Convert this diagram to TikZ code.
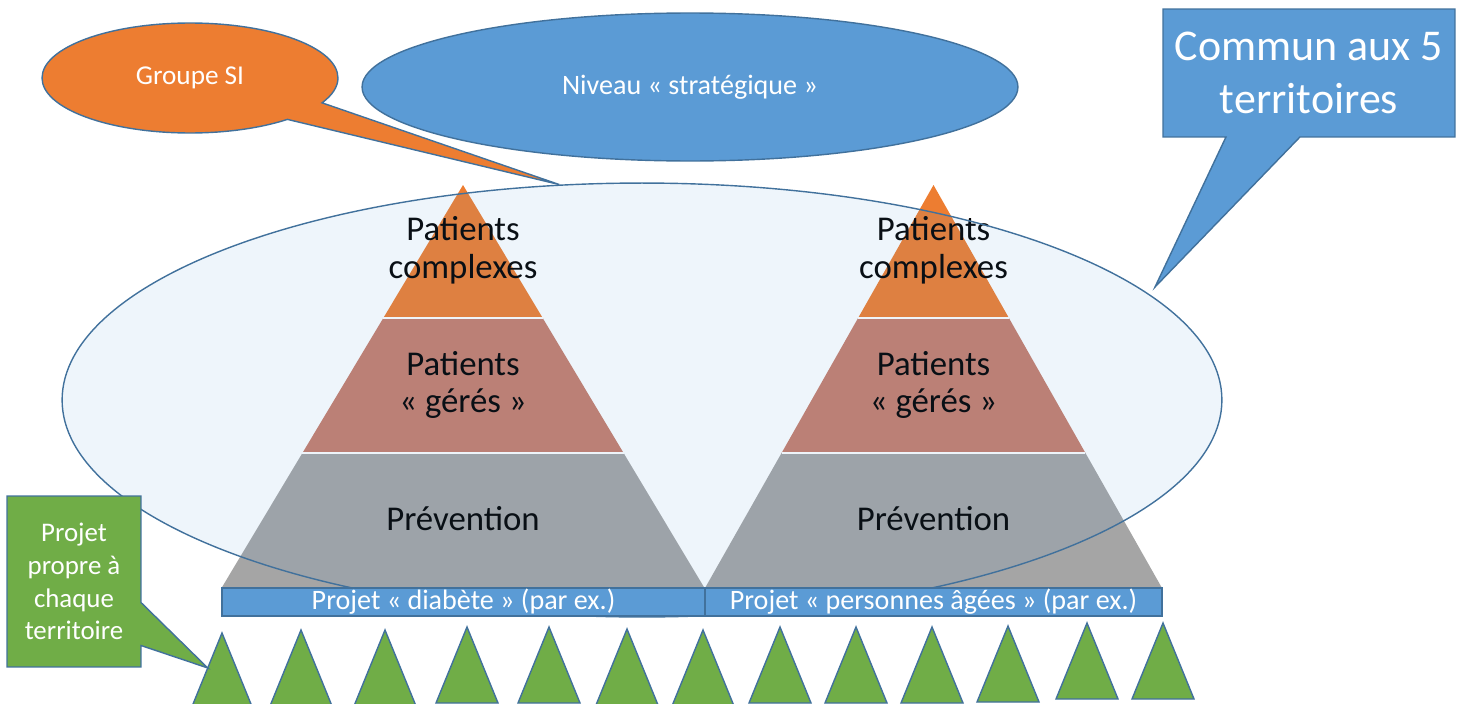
\documentclass[tikz,border=0pt]{standalone}
\usepackage{fontspec}
\setmainfont{Carlito}
\usetikzlibrary{shapes.geometric,shapes.callouts}
\definecolor{bleu}{HTML}{5B9BD5}
\definecolor{bord}{HTML}{41719C}
\definecolor{orangeSI}{HTML}{ED7D31}
\definecolor{brunP}{HTML}{C77E6C}
\definecolor{grisP}{HTML}{A5A5A5}
\definecolor{vertT}{HTML}{70AD47}

\begin{document}
\begin{tikzpicture}[x=0.02cm,y=-0.02cm,
 bulle/.style={draw=bord,line width=0.8pt,text=white,align=center,inner sep=0pt},
 etage/.style={font=\fontsize{19.8}{21.5}\selectfont,text=black,align=center},
 projet/.style={draw=bord,line width=0.8pt,fill=bleu,text=white,inner sep=0pt,minimum height=0.56cm,font=\fontsize{16}{19}\selectfont}]
\clip (0,0) rectangle (1463,703);

% deux pyramides a trois etages
\foreach \k/\cx/\hw in {1/463/241.5,2/933.5/228.5}{
 \fill[grisP] ({\cx-0.665*\hw},453) -- ({\cx+0.665*\hw},453) -- ({\cx+\hw},588) -- ({\cx-\hw},588) -- cycle;
 \fill[brunP] ({\cx-0.33*\hw},318) -- ({\cx+0.33*\hw},318) -- ({\cx+0.665*\hw},453) -- ({\cx-0.665*\hw},453) -- cycle;
 \fill[orangeSI] (\cx,185) -- ({\cx+0.33*\hw},318) -- ({\cx-0.33*\hw},318) -- cycle;
 \draw[white,line width=1pt] ({\cx-0.33*\hw},318) -- ({\cx+0.33*\hw},318) ({\cx-0.665*\hw},453) -- ({\cx+0.665*\hw},453);
 \node[etage] (haut\k) at (\cx,250) {Patients\\complexes};
 \node[etage] (milieu\k) at (\cx,385) {Patients\\« gérés »};
 \node[etage] (base\k) at (\cx,519) {Prévention};
}

% niveau commun (voile transparent)
\node[ellipse,draw=bord,line width=0.8pt,fill=bleu,fill opacity=0.1,minimum width=23.2cm,minimum height=8.68cm,inner sep=0pt] (commun) at (642,400) {};
\coordinate (pointe) at (1155,287);

\node[projet,minimum width=9.66cm] (diabete) at (463.5,602) {Projet « diabète » (par ex.)};
\node[projet,minimum width=9.14cm] (agees) at (933.5,602) {Projet « personnes âgées » (par ex.)};

% un projet par territoire
\foreach \i/\x/\y in {1/222/633,2/301/630,3/385/630,4/467/627,5/549/627,6/627/629,7/703/630,8/780/627,9/856/627,10/932/627,11/1008/626,12/1087/623,13/1163/623}{
 \draw[bord,line width=0.8pt,fill=vertT] (\x,\y) -- coordinate[pos=0.46] (g\i) ++(-31,76) -- ++(62,0) -- cycle;
}

\node[bulle,ellipse callout,fill=orangeSI,minimum width=5.92cm,minimum height=2.2cm,callout pointer arc=22,callout absolute pointer={(commun.111)},font=\fontsize{15.5}{19}\selectfont] (groupe) at (190,78) {Groupe SI};
\node[bulle,ellipse,fill=bleu,minimum width=13.12cm,minimum height=2.96cm,font=\fontsize{16}{19}\selectfont] (niveau) at (690,87) {Niveau « stratégique »};
\node[bulle,rectangle callout,fill=bleu,minimum width=5.84cm,minimum height=2.56cm,callout pointer width=1.48cm,callout absolute pointer={(pointe)},font=\fontsize{25}{30}\selectfont] (cinq) at (1309,73) {Commun aux 5\\territoires};
\node[bulle,rectangle callout,fill=vertT,minimum width=2.68cm,minimum height=3.42cm,callout pointer width=0.86cm,callout absolute pointer={(g1)},font=\fontsize{15.3}{18.7}\selectfont] (propre) at (74,581.5) {Projet\\propre à\\chaque\\territoire};
\end{tikzpicture}
\end{document}
